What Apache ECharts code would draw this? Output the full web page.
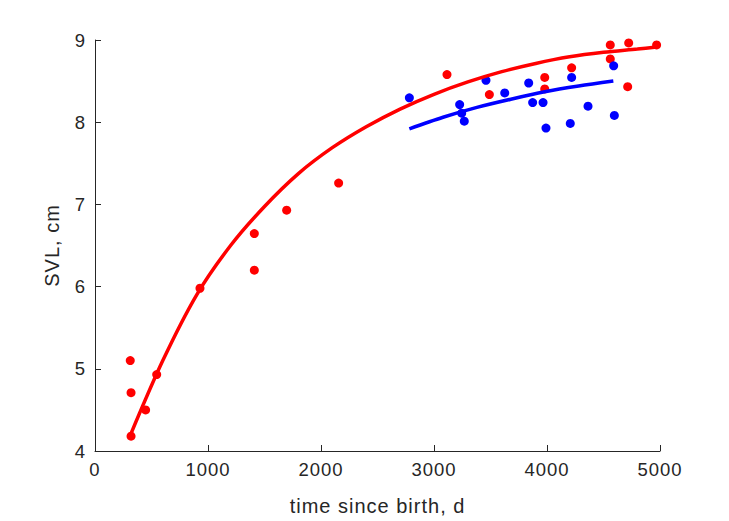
<!DOCTYPE html>
<html>
<head>
<meta charset="utf-8">
<script src="https://cdn.jsdelivr.net/npm/echarts@6/dist/echarts.min.js"></script>
<style>
html,body{margin:0;padding:0;background:#fff;overflow:hidden;width:729px;height:521px;}
#c{position:absolute;left:0;top:0;width:729px;height:521px;overflow:hidden;}
#c svg{display:block;}
#c text{letter-spacing:1px;}
</style>
</head>
<body>
<div id="c"></div>
<script>
// Red group observations [time (d), SVL (cm)]
const redX = [312, 319, 448, 319, 546, 929, 1410, 1410, 1696, 2156, 3115, 3490, 3980, 3980, 4218, 4560, 4560, 4723, 4714, 4970];
const redY = [5.10, 4.71, 4.50, 4.18, 4.93, 5.98, 6.645, 6.20, 6.93, 7.26, 8.58, 8.336, 8.545, 8.405, 8.662, 8.94, 8.77, 8.964, 8.432, 8.94];
// Blue group observations
const blueX = [2782, 3227, 3245, 3268, 3460, 3626, 3838, 3873, 3965, 3991, 4218, 4206, 4363, 4590, 4596];
const blueY = [8.296, 8.215, 8.11, 8.013, 8.51, 8.356, 8.477, 8.239, 8.239, 7.929, 8.545, 7.985, 8.195, 8.686, 8.082];
// Fitted curves
const redFitX = [315, 600, 900, 1200, 1500, 1800, 2100, 2400, 2700, 3000, 3300, 3600, 3900, 4200, 4500, 4800, 4970];
const redFitY = [4.20, 5.10, 5.90, 6.50, 6.975, 7.375, 7.69, 7.945, 8.16, 8.34, 8.49, 8.615, 8.715, 8.795, 8.85, 8.89, 8.915];
const blueFitX = [2782, 3080, 3380, 3680, 3980, 4280, 4587];
const blueFitY = [7.92, 8.06, 8.18, 8.28, 8.37, 8.44, 8.50];
// Axis ticks
const xTicks = [0, 1000, 2000, 3000, 4000, 5000];
const yTicks = [4, 5, 6, 7, 8, 9];

const zip = (a, b) => a.map((v, i) => [v, b[i]]);
const axisCol = '#262626';
const font = 'Liberation Sans, Arial, Helvetica, sans-serif';

const chart = echarts.init(document.getElementById('c'), null, {renderer: 'svg', width: 729, height: 521});
chart.setOption({
  animation: false,
  backgroundColor: '#ffffff',
  grid: {left: 95, right: 69, top: 40, bottom: 67, containLabel: false},
  xAxis: {
    type: 'value',
    min: xTicks[0], max: xTicks[xTicks.length - 1], interval: 1000,
    name: 'time since birth, d', nameLocation: 'middle', nameGap: 45,
    nameTextStyle: {color: axisCol, fontSize: 20, fontFamily: font},
    axisLine: {show: true, lineStyle: {color: axisCol, width: 1}},
    axisTick: {show: true, inside: true, length: 6, lineStyle: {color: axisCol}},
    axisLabel: {color: axisCol, fontSize: 18.5, fontFamily: font, margin: 9,
                formatter: v => String(v)},
    splitLine: {show: false}
  },
  yAxis: {
    type: 'value',
    min: yTicks[0], max: yTicks[yTicks.length - 1], interval: 1,
    name: 'SVL, cm', nameLocation: 'middle', nameGap: 33, nameRotate: 90,
    nameTextStyle: {color: axisCol, fontSize: 20, fontFamily: font},
    axisLine: {show: true, lineStyle: {color: axisCol, width: 1}},
    axisTick: {show: true, inside: true, length: 6, lineStyle: {color: axisCol}},
    axisLabel: {color: axisCol, fontSize: 18.5, fontFamily: font, margin: 9,
                formatter: v => String(v)},
    splitLine: {show: false}
  },
  series: [
    {type: 'scatter', data: zip(redX, redY), symbol: 'circle', symbolSize: 9,
     itemStyle: {color: '#ff0000', opacity: 1}, z: 2},
    {type: 'scatter', data: zip(blueX, blueY), symbol: 'circle', symbolSize: 9,
     itemStyle: {color: '#0000ff', opacity: 1}, z: 2},
    {type: 'line', data: zip(redFitX, redFitY), smooth: 0.3, showSymbol: false,
     lineStyle: {color: '#ff0000', width: 3.5}, z: 3},
    {type: 'line', data: zip(blueFitX, blueFitY), smooth: 0.3, showSymbol: false,
     lineStyle: {color: '#0000ff', width: 3.5}, z: 3}
  ]
});
</script>
</body>
</html>
